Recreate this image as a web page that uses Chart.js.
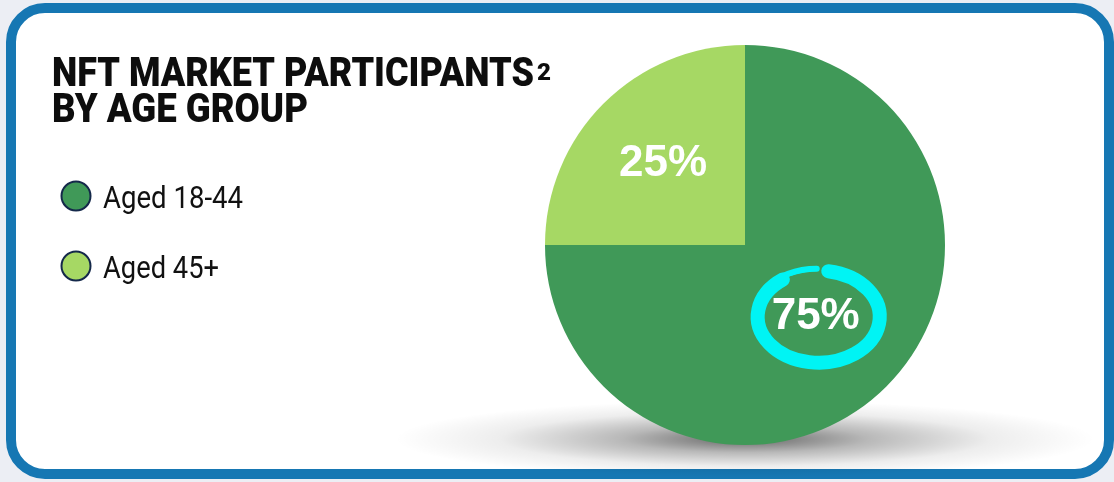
<!DOCTYPE html>
<html>
<head>
<meta charset="utf-8">
<script src="https://cdn.jsdelivr.net/npm/chart.js@4/dist/chart.umd.min.js"></script>
<style>
  html, body { margin: 0; padding: 0; background: #eceef4; }
  #wrap { width: 1114px; height: 482px; position: relative; }
</style>
</head>
<body>
<div id="wrap"><canvas id="pieChart" width="1114" height="482"></canvas></div>
<script>
// data
const ageLabels = ['Aged 18-44', 'Aged 45+'];
const ageShares = [75, 25];
const sliceColors = ['#409958', '#a6d864'];
const titleLines = ['NFT MARKET PARTICIPANTS', 'BY AGE GROUP'];

// draw text squeezed to a given width (condensed look)
function fitText(ctx, txt, x, y, w) {
  let m = ctx.measureText(txt).width;
  ctx.save();
  ctx.translate(x, y);
  ctx.scale(w / m, 1);
  ctx.fillText(txt, 0, 0);
  ctx.restore();
}

function roundRect(ctx, x, y, w, h, r) {
  ctx.beginPath();
  ctx.moveTo(x + r, y);
  ctx.lineTo(x + w - r, y);
  ctx.arcTo(x + w, y, x + w, y + r, r);
  ctx.lineTo(x + w, y + h - r);
  ctx.arcTo(x + w, y + h, x + w - r, y + h, r);
  ctx.lineTo(x + r, y + h);
  ctx.arcTo(x, y + h, x, y + h - r, r);
  ctx.lineTo(x, y + r);
  ctx.arcTo(x, y, x + r, y, r);
  ctx.closePath();
}

const cardPlugin = {
  id: 'card',
  beforeDraw(chart) {
    const ctx = chart.ctx;
    ctx.save();
    // card
    roundRect(ctx, 11, 8, 1098, 466, 34);
    ctx.fillStyle = '#ffffff';
    ctx.fill();
    ctx.lineWidth = 10;
    ctx.strokeStyle = '#1677b3';
    ctx.stroke();

    // title
    ctx.fillStyle = '#0d0d0d';
    ctx.textBaseline = 'alphabetic';
    ctx.font = '900 41px Roboto, sans-serif';
    fitText(ctx, titleLines[0], 52, 86, 482);
    fitText(ctx, titleLines[1], 52, 122, 256);
    ctx.font = '900 23px Roboto, sans-serif';
    fitText(ctx, '2', 537, 80, 14);

    // legend
    ageLabels.forEach((lab, i) => {
      const cy = 196 + i * 70;
      ctx.beginPath();
      ctx.arc(76, cy, 14.5, 0, Math.PI * 2);
      ctx.fillStyle = sliceColors[i];
      ctx.fill();
      ctx.lineWidth = 2;
      ctx.strokeStyle = '#14284a';
      ctx.stroke();
      ctx.fillStyle = '#111111';
      ctx.font = '31px Roboto, sans-serif';
      const w = i === 0 ? 140 : 116;
      fitText(ctx, lab, 103, cy + 12, w);
    });

    // shadow under the pie
    const meta = chart.getDatasetMeta(0).data[0];
    const sx = meta.x, sy = meta.y + meta.outerRadius - 6;
    ctx.save();
    ctx.translate(sx, sy);
    ctx.scale(1, 0.11);
    const g = ctx.createRadialGradient(0, 0, 0, 0, 0, 350);
    g.addColorStop(0, 'rgba(0,0,0,0.6)');
    g.addColorStop(0.35, 'rgba(0,0,0,0.28)');
    g.addColorStop(0.7, 'rgba(0,0,0,0.07)');
    g.addColorStop(1, 'rgba(0,0,0,0)');
    ctx.fillStyle = g;
    ctx.beginPath();
    ctx.arc(0, 0, 350, 0, Math.PI * 2);
    ctx.fill();
    ctx.restore();
    ctx.restore();
  },
  afterDatasetsDraw(chart) {
    const ctx = chart.ctx;
    const arcs = chart.getDatasetMeta(0).data;
    const factors = [0.5, 0.58];
    ctx.save();
    arcs.forEach((a, i) => {
      const mid = (a.startAngle + a.endAngle) / 2;
      const x = a.x + Math.cos(mid) * a.outerRadius * factors[i];
      const y = a.y + Math.sin(mid) * a.outerRadius * factors[i];
      if (i === 0) {
        // cyan brush ring round the big share
        ctx.save();
        ctx.translate(x, y);
        ctx.strokeStyle = '#00f4f4';
        ctx.lineCap = 'round';
        ctx.lineWidth = 14;
        ctx.beginPath();
        ctx.ellipse(3, 1, 61, 46, 0, -Math.PI * 0.45, Math.PI * 1.3);
        ctx.stroke();
        ctx.lineWidth = 6;
        ctx.beginPath();
        ctx.ellipse(1, -1, 63, 46, 0, Math.PI * 1.2, Math.PI * 1.5);
        ctx.stroke();
        ctx.lineWidth = 3;
        ctx.beginPath();
        ctx.ellipse(1, 1, 60, 47, 0, Math.PI * 1.25, Math.PI * 1.44);
        ctx.stroke();
        ctx.restore();
      }
      ctx.fillStyle = '#ffffff';
      ctx.font = 'bold 44px "Liberation Sans", Arial, sans-serif';
      ctx.textAlign = 'center';
      ctx.textBaseline = 'middle';
      ctx.fillText(ageShares[i] + '%', x, y + 1);
    });
    ctx.restore();
  }
};

const ctx = document.getElementById('pieChart').getContext('2d');
const myChart = new Chart(ctx, {
  type: 'pie',
  data: {
    labels: ageLabels,
    datasets: [{
      data: ageShares,
      backgroundColor: sliceColors,
      borderWidth: 0
    }]
  },
  options: {
    responsive: false,
    animation: false,
    devicePixelRatio: 1,
    layout: { padding: { left: 545, right: 169, top: 45, bottom: 37 } },
    plugins: {
      legend: { display: false },
      tooltip: { enabled: false }
    }
  },
  plugins: [cardPlugin]
});
</script>
</body>
</html>
